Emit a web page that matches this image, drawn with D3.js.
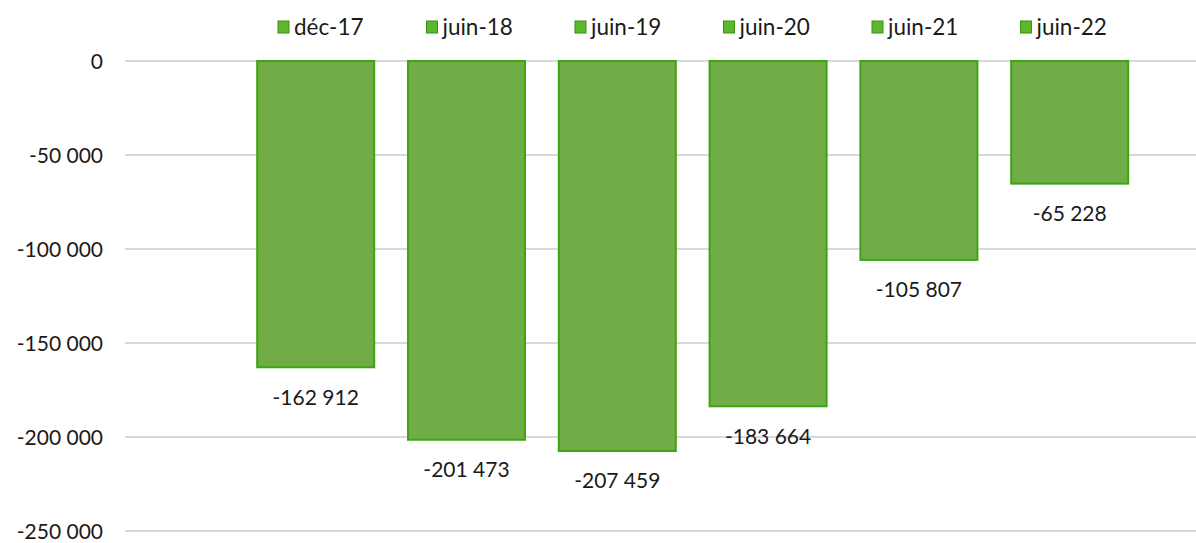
<!DOCTYPE html>
<html><head><meta charset="utf-8">
<script src="https://cdn.jsdelivr.net/npm/d3@7"></script>
<style>
html,body{margin:0;padding:0;background:#fff;}
svg text{font-family:Lato,"Open Sans",sans-serif;fill:#1a1a1a;}
</style></head>
<body>
<svg id="chart" width="1196" height="543"></svg>
<script>
const categories = ["déc-17","juin-18","juin-19","juin-20","juin-21","juin-22"];
const values = [-162912,-201473,-207459,-183664,-105807,-65228];
const yTicks = [0,-50000,-100000,-150000,-200000,-250000];

const W = 1196, H = 543;
const svg = d3.select("#chart");
const loc = d3.formatLocale({decimal:",", thousands:"\u00a0", grouping:[3], currency:["","€"], minus:"-"});
const fmt = loc.format(",d");

const y = d3.scaleLinear().domain([-250000, 0]).range([531, 61]);
const x = d3.scaleBand().domain(categories).range([240.3, 1145.1]).paddingInner(0.224).paddingOuter(0.112);

// gridlines
svg.append("g").selectAll("line").data(yTicks).join("line")
  .attr("x1", 125).attr("x2", W)
  .attr("y1", d => y(d)).attr("y2", d => y(d))
  .attr("stroke", "#d9d9d9").attr("stroke-width", 2);

// y axis labels
const yAxis = d3.axisLeft(y).tickValues(yTicks).tickFormat(fmt).tickSize(0).tickPadding(0);
const ga = svg.append("g").attr("transform", "translate(103,0)").call(yAxis);
ga.select(".domain").remove();
ga.selectAll("text").attr("font-size", 21).attr("font-family", "Lato, sans-serif").attr("fill", "#1a1a1a").attr("dy", "0.35em");

// bars
svg.append("g").selectAll("rect").data(categories).join("rect")
  .attr("x", d => x(d))
  .attr("width", x.bandwidth())
  .attr("y", y(0))
  .attr("height", (d, i) => y(values[i]) - y(0))
  .attr("fill", "#70ad47")
  .attr("stroke", "#3fa412")
  .attr("stroke-width", 2);

// data labels
svg.append("g").selectAll("text").data(categories).join("text")
  .attr("x", d => x(d) + x.bandwidth() / 2)
  .attr("y", (d, i) => y(values[i]) + 30)
  .attr("dy", "0.35em")
  .attr("text-anchor", "middle")
  .attr("font-size", 21)
  .text((d, i) => fmt(values[i]));

// legend
const legend = svg.append("g").selectAll("g").data(categories).join("g")
  .attr("transform", (d, i) => `translate(${278 + i * 148.5},27)`);
legend.append("rect").attr("x", 0).attr("y", -6).attr("width", 11).attr("height", 12)
  .attr("fill", "#5cb82a").attr("stroke", "#3a9010").attr("stroke-width", 1);
legend.append("text").attr("x", 16).attr("dy", "0.35em").attr("font-size", 22.5).text(d => d);
</script>
</body></html>
